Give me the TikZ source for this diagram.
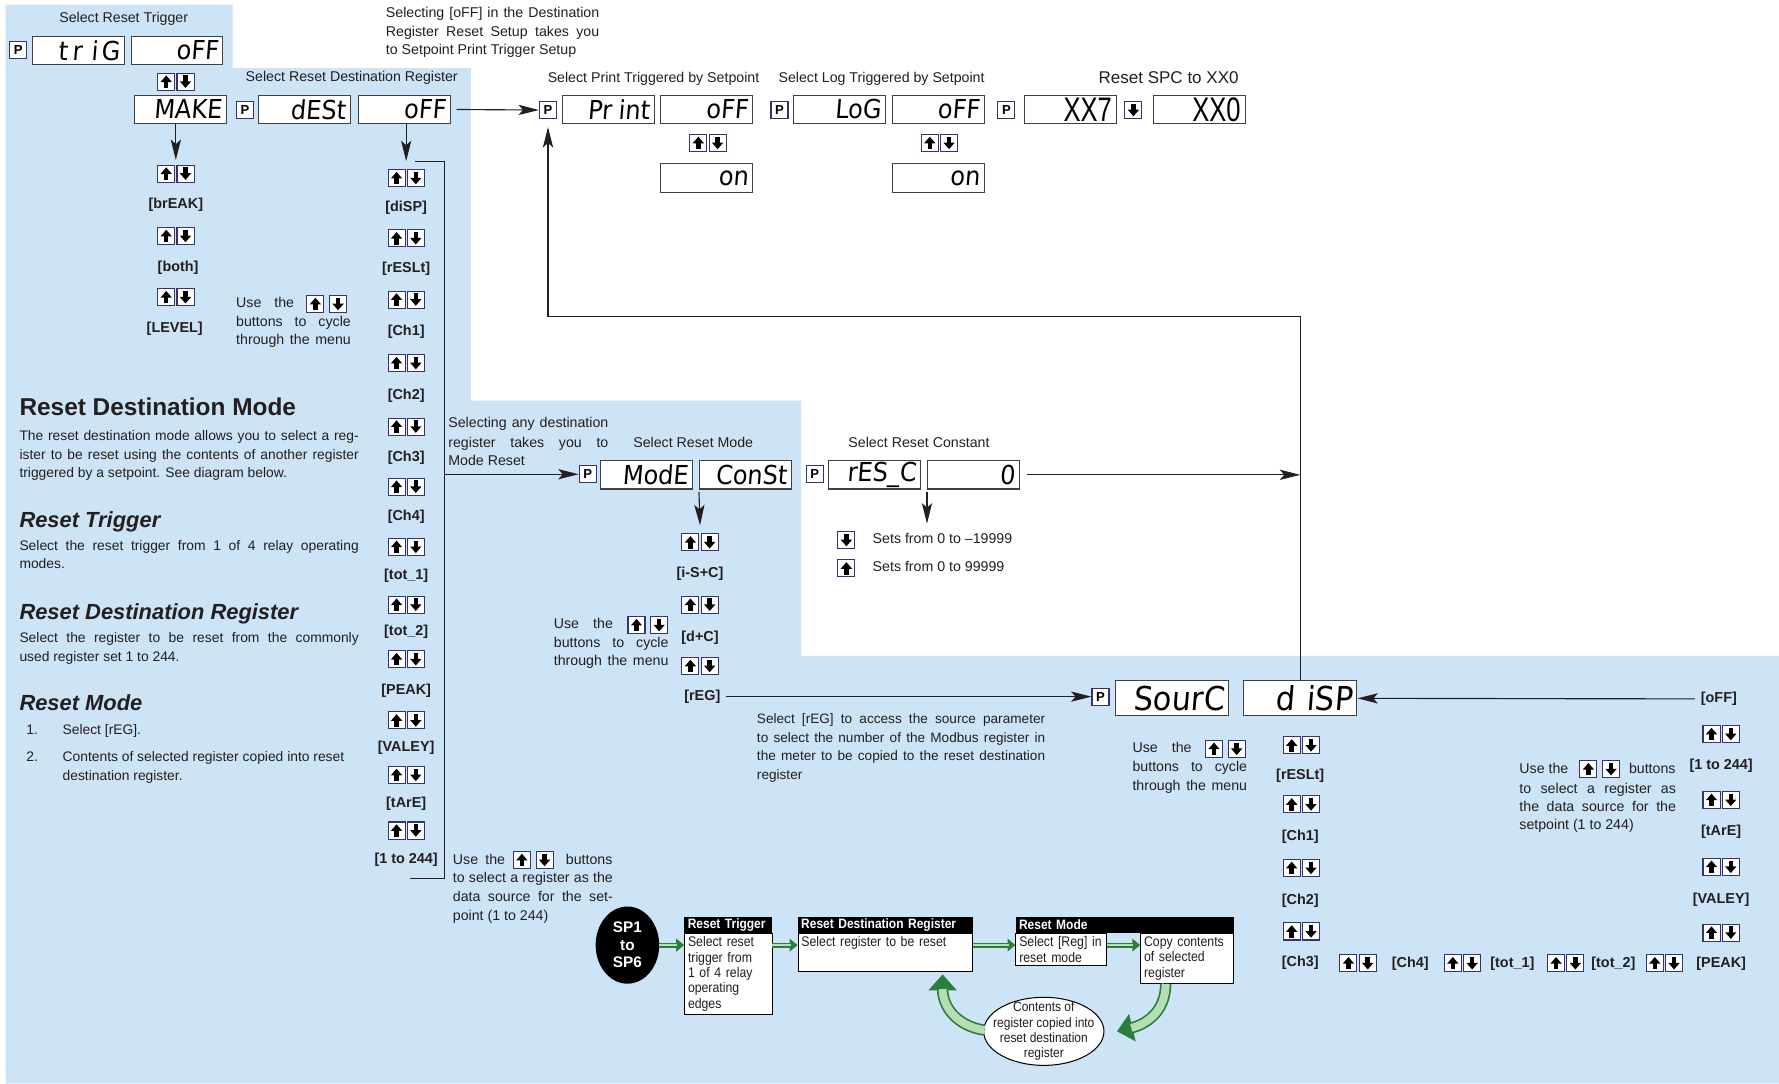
\documentclass[tikz,border=0pt]{standalone}
\usepackage{fontspec}
\setmainfont{Liberation Sans}
\newfontfamily\segfont[FakeSlant=0.08,FakeStretch=0.92]{DejaVu Sans}
\newfontfamily\xxfont[FakeStretch=0.75]{Liberation Sans}
\newfontfamily\condfont[FakeStretch=0.88]{Liberation Sans}
\usetikzlibrary{arrows.meta,shapes.geometric,calc}
\definecolor{bgblue}{RGB}{205,227,246}
\definecolor{btnline}{RGB}{52,50,115}
\definecolor{txt}{RGB}{35,31,32}
\definecolor{gdark}{RGB}{45,125,60}
\definecolor{glight}{RGB}{180,222,180}
\tikzset{
 pics/upbtn/.style={code={
   \draw[draw=btnline, fill=white, line width=0.9pt] (-7.5,-7.5) rectangle (7.5,7.5);
   \fill[black] (-5,0.3) -- (0,-5.5) -- (5,0.3) -- cycle;
   \fill[black] (-2,0) rectangle (2,5.5);}},
 pics/dnbtn/.style={code={
   \draw[draw=btnline, fill=white, line width=0.9pt] (-7.5,-7.5) rectangle (7.5,7.5);
   \fill[black] (-5,-0.3) -- (0,5.5) -- (5,-0.3) -- cycle;
   \fill[black] (-2,0) rectangle (2,-5.5);}},
 pics/udpair/.style={code={\pic at (-8.5,0) {upbtn}; \pic at (8.5,0) {dnbtn};}},
 pics/udgap/.style={code={\pic at (-10,0) {upbtn}; \pic at (10,0) {dnbtn};}}
}
\begin{document}
\begin{tikzpicture}[x=1pt,y=-1pt,
  txtn/.style={inner sep=0pt, text=txt, font=\fontsize{12.5}{15}\selectfont, text height=9pt, text depth=3pt},
  ptxt/.style={txtn, anchor=west, font=\fontsize{12.2}{15}\selectfont},
  lbl/.style={inner sep=0pt, text=txt, font=\bfseries\fontsize{12.7}{15}\selectfont, text height=9pt, text depth=3pt},
  subhd/.style={inner sep=0pt, anchor=base west, text=txt, font=\bfseries\itshape\fontsize{19.3}{22}\selectfont},
  dispn/.style={draw=black!75, line width=0.9pt, fill=white, minimum height=25pt, text width=73pt, align=right, inner xsep=4pt, inner ysep=0pt, font=\segfont\fontsize{23}{23}\selectfont},
  bigdisp/.style={dispn, minimum height=31pt, text width=92pt, font=\segfont\fontsize{29}{29}\selectfont},
  xxdisp/.style={dispn, font=\xxfont\fontsize{30}{30}\selectfont},
  pbox/.style={draw=btnline, line width=1pt, fill=white, minimum size=15pt, inner sep=0pt, font=\bfseries\fontsize{11.5}{11.5}\selectfont},
  arr/.style={draw=txt, line width=1pt, -{Stealth[length=18pt,width=9pt,inset=4pt]}},
  ln/.style={draw=txt, line width=1pt},
  hdr/.style={fill=black, text=white, anchor=north west, inner xsep=3pt, inner ysep=0pt, minimum height=14pt, align=left, font=\bfseries\condfont\fontsize{12}{12}\selectfont},
  bodyn/.style={draw=black, line width=0.8pt, fill=white, anchor=north west, inner xsep=3pt, inner ysep=3pt, align=left, text=txt, font=\condfont\fontsize{12.3}{13.6}\selectfont},
  gfat/.style={draw=gdark, line width=4.5pt, -{Triangle[length=7pt,width=11pt]}, postaction={draw=glight, line width=2pt, shorten >=6pt, -}},
  gbig/.style={draw=gdark, line width=10pt, -{Triangle[length=14pt,width=24pt]}, postaction={draw=glight, line width=7pt, shorten >=13pt, -}}
]
\useasboundingbox (0,0) rectangle (1568,955);
\fill[white] (0,0) rectangle (1568,955);
\fill[bgblue] (5,4) -- (205,4) -- (205,60) -- (415,60) -- (415,353) -- (706,353) -- (706,578) -- (1568,578) -- (1568,955) -- (5,955) -- cycle;

% ---------- Reset trigger ----------
\node[txtn] (hTrig) at (109,17) {Select Reset Trigger};
\node[pbox] (p1) at (16,44) {P};
\node[dispn] (trig) at (69,44.5) {t\hspace{4pt}r\hspace{8pt}i\hspace{3pt}G};
\node[dispn] (trigoff) at (156,44.5) {oFF};
\pic at (155,72) {udpair};
\node[dispn] (make) at (159,96.5) {MAKE};
\coordinate (cA) at (155,153);
\draw[arr] (make.south -| cA) -- ($(cA)+(0,-12)$);
\pic at (cA) {udpair};
\node[lbl] (brk) at (155,181) {[brEAK]};
\pic at (155,208) {udpair};
\node[lbl] (both) at (157,236) {[both]};
\pic at (155,262) {udpair};
\node[lbl] (lev) at (154,290) {[LEVEL]};
\node[txtn, anchor=west] (u1a) at (208,268) {\makebox[51pt][s]{Use the}};
\pic at (288,268) {udgap};
\node[txtn, anchor=west] (u1b) at (208,285) {\makebox[101pt][s]{buttons to cycle}};
\node[txtn, anchor=west] (u1c) at (208,301) {\makebox[101pt][s]{through the menu}};

% ---------- Destination register ----------
\node[txtn] (hDest) at (310,69) {Select Reset Destination Register};
\node[pbox] (p2) at (216,97) {P};
\node[dispn] (dest) at (268,96.5) {dESt};
\node[dispn] (destoff) at (356.5,96.5) {oFF};
\coordinate (cB) at (358,157);
\draw[arr] (destoff.south -| cB) -- ($(cB)+(0,-15)$);
\coordinate (brTL) at (366,142);
\coordinate (brT) at (392,142);
\coordinate (brM) at (392,418);
\coordinate (brB) at (392,774);
\coordinate (brBL) at (361,774);
\draw[ln] (brTL) -- (brT) -- (brB) -- (brBL);
\foreach \yb/\yl/\l [count=\i] in {157/183/{[diSP]}, 210/237/{[rESLt]}, 264/293/{[Ch1]}, 320/349/{[Ch2]}, 376/404/{[Ch3]}, 429/456/{[Ch4]}, 482/508/{[tot\_1]}, 533/557/{[tot\_2]}, 581/609/{[PEAK]}, 635/659/{[VALEY]}, 683/709/{[tArE]}, 732/758/{[1 to 244]}}{
  \pic at (358,\yb) {udpair};
  \node[lbl] (colB\i) at (358,\yl) {\l};
}
\node[txtn, anchor=west] (u2a) at (399,759) {\makebox[46pt][s]{Use the}};
\pic at (470,758) {udgap};
\node[txtn, anchor=east] (u2b) at (540,759) {buttons};
\node[txtn, anchor=west] (u2c) at (399,775) {\makebox[141pt][s]{to select a register as the}};
\node[txtn, anchor=west] (u2d) at (399,792) {\makebox[141pt][s]{data source for the set-}};
\node[txtn, anchor=west] (u2e) at (399,808) {point (1 to 244)};

% ---------- Left description ----------
\node[inner sep=0pt, anchor=base west, text=txt, font=\bfseries\fontsize{21.5}{24}\selectfont] (hRDM) at (17,366) {Reset Destination Mode};
\node[ptxt] (pa1) at (17,385) {\makebox[299pt][s]{The reset destination mode allows you to select a reg-}};
\node[ptxt] (pa2) at (17,402) {\makebox[299pt][s]{ister to be reset using the contents of another register}};
\node[ptxt] (pa3) at (17,418) {triggered by a setpoint. See diagram below.};
\node[subhd] (hRT) at (17,465) {Reset Trigger};
\node[ptxt] (pb1) at (17,482) {\makebox[299pt][s]{Select the reset trigger from 1 of 4 relay operating}};
\node[ptxt] (pb2) at (17,498) {modes.};
\node[subhd] (hRDR) at (17,546) {Reset Destination Register};
\node[ptxt] (pc1) at (17,563) {\makebox[299pt][s]{Select the register to be reset from the commonly}};
\node[ptxt] (pc2) at (17,580) {used register set 1 to 244.};
\node[subhd] (hRM) at (17,626) {Reset Mode};
\node[ptxt] (n1) at (23,644) {1.};
\node[ptxt] (pd1) at (55,644) {Select [rEG].};
\node[ptxt] (n2) at (23,668) {2.};
\node[ptxt] (pd2) at (55,668) {Contents of selected register copied into reset};
\node[ptxt] (pd3) at (55,685) {destination register.};

% ---------- Top note ----------
\node[txtn, anchor=west] (tn1) at (340,12) {\makebox[188pt][s]{Selecting [oFF] in the Destination}};
\node[txtn, anchor=west] (tn2) at (340,29) {\makebox[188pt][s]{Register Reset Setup takes you}};
\node[txtn, anchor=west] (tn3) at (340,45) {to Setpoint Print Trigger Setup};

% ---------- Print / Log / SPC ----------
\node[txtn] (hPrint) at (576,70) {Select Print Triggered by Setpoint};
\node[pbox] (p3) at (483,97) {P};
\node[dispn] (print) at (536,96.5) {Pr\hspace{6pt}int};
\node[dispn] (printoff) at (623,96.5) {oFF};
\pic at (624,126) {udpair};
\node[dispn] (printon) at (623,157) {on};
\node[txtn] (hLog) at (777,70) {Select Log Triggered by Setpoint};
\node[pbox] (p4) at (687,97) {P};
\node[dispn] (log) at (740,96.5) {LoG};
\node[dispn] (logoff) at (827,96.5) {oFF};
\pic at (828,126) {udpair};
\node[dispn] (logon) at (827,157) {on};
\node[txtn, font=\fontsize{15}{17}\selectfont, text height=11pt] (hXX) at (1030,70) {Reset SPC to XX0};
\node[pbox] (p5) at (887,97) {P};
\node[xxdisp] (xx7) at (943.5,96.5) {XX7};
\pic at (999,97) {dnbtn};
\node[xxdisp] (xx0) at (1057,96.5) {XX0};
\draw[arr] ($(destoff.east)+(5,0)$) -- (p3.west);

% ---------- Mode ----------
\node[txtn, anchor=west] (m1) at (395,374) {\makebox[141pt][s]{Selecting any destination}};
\node[txtn, anchor=west] (m2) at (395,391) {\makebox[141pt][s]{register takes you to}};
\node[txtn, anchor=west] (m3) at (395,407) {Mode Reset};
\node[txtn] (hMode) at (611,391) {Select Reset Mode};
\node[pbox] (p6) at (518,418) {P};
\node[dispn] (mode) at (570,418.5) {ModE};
\node[dispn] (const) at (657,418.5) {ConSt};
\draw[arr] (brM) -- (p6.west);
\coordinate (cC) at (617,478);
\draw[arr] ($(const.south west)+(0,2)$) -- ($(cC)+(0,-15)$);
\pic at (cC) {udpair};
\node[lbl] (isc) at (617,506) {[i-S+C]};
\pic at (617,533) {udpair};
\node[lbl] (dc) at (617,562) {[d+C]};
\pic at (617,587) {udpair};
\node[lbl] (reg) at (619,614) {[rEG]};
\node[txtn, anchor=west] (u3a) at (488,551) {\makebox[52pt][s]{Use the}};
\pic at (571,551) {udgap};
\node[txtn, anchor=west] (u3b) at (488,568) {\makebox[101pt][s]{buttons to cycle}};
\node[txtn, anchor=west] (u3c) at (488,584) {\makebox[101pt][s]{through the menu}};

% ---------- Reset constant ----------
\node[txtn] (hConst) at (810,391) {Select Reset Constant};
\node[pbox] (p7) at (718,418) {P};
\node[dispn] (resc) at (771,418.5) {rES\_C};
\node[dispn] (zero) at (858,418.5) {0};
\draw[arr] ($(zero.south west)+(0,2)$) -- ++(0,28);
\pic at (746,476) {dnbtn};
\node[txtn, anchor=west] (s1) at (769,476) {Sets from 0 to --19999};
\pic at (746,501) {upbtn};
\node[txtn, anchor=west] (s2) at (769,501) {Sets from 0 to 99999};

% ---------- Source ----------
\node[pbox] (p8) at (970,614) {P};
\node[bigdisp] (sourc) at (1033,615.5) {SourC};
\node[bigdisp] (dispbox) at (1146,615.5) {d\hspace{10pt}iSP};
\node[lbl] (off2) at (1515,616) {[oFF]};
\draw[arr] ($(off2.west)+(-5,0)$) -- (dispbox.east);
\draw[arr] ($(reg.east)+(5,0)$) -- (p8.west);
\draw[arr] ($(zero.east)+(6,0)$) -- (zero.east -| dispbox.north);
\coordinate (rtc) at (483,279);
\draw[arr, shorten >=7pt] (dispbox.north) |- (rtc) -- (p3.south);
\node[txtn, anchor=west, font=\fontsize{12}{15}\selectfont] (sr1) at (667,635) {\makebox[254pt][s]{Select [rEG] to access the source parameter}};
\node[txtn, anchor=west, font=\fontsize{12}{15}\selectfont] (sr2) at (667,651) {\makebox[254pt][s]{to select the number of the Modbus register in}};
\node[txtn, anchor=west, font=\fontsize{12}{15}\selectfont] (sr3) at (667,667) {\makebox[254pt][s]{the meter to be copied to the reset destination}};
\node[txtn, anchor=west, font=\fontsize{12}{15}\selectfont] (sr4) at (667,684) {register};
\node[txtn, anchor=west] (u4a) at (998,660) {\makebox[52pt][s]{Use the}};
\pic at (1080,660) {udgap};
\node[txtn, anchor=west] (u4b) at (998,677) {\makebox[101pt][s]{buttons to cycle}};
\node[txtn, anchor=west] (u4c) at (998,694) {\makebox[101pt][s]{through the menu}};
\foreach \yb/\yl/\l [count=\i] in {657/684/{[rESLt]}, 709/738/{[Ch1]}, 765/794/{[Ch2]}, 821/849/{[Ch3]}}{
  \pic at (1147,\yb) {udpair};
  \node[lbl] (colD\i) at (1146,\yl) {\l};
}
\foreach \xb/\xl/\l [count=\i] in {1197/1243/{[Ch4]}, 1289/1333/{[tot\_1]}, 1380/1422/{[tot\_2]}}{
  \pic at (\xb,849) {udpair};
  \node[lbl] (rowE\i) at (\xl,850) {\l};
}
\pic at (1467,849) {udpair};
\foreach \yb/\yl/\l [count=\i] in {647/675/{[1 to 244]}, 705/733/{[tArE]}, 764/793/{[VALEY]}, 822/850/{[PEAK]}}{
  \pic at (1517,\yb) {udpair};
  \node[lbl] (colF\i) at (1517,\yl) {\l};
}
\node[txtn, anchor=west] (u5a) at (1339,679) {Use the};
\pic at (1410,678) {udgap};
\node[txtn, anchor=east] (u5b) at (1477,679) {buttons};
\node[txtn, anchor=west] (u5c) at (1339,696) {\makebox[138pt][s]{to select a register as}};
\node[txtn, anchor=west] (u5d) at (1339,712) {\makebox[138pt][s]{the data source for the}};
\node[txtn, anchor=west] (u5e) at (1339,728) {setpoint (1 to 244)};

% ---------- Flow chart ----------
\node[ellipse, fill=black, minimum width=56pt, minimum height=68pt, inner sep=0pt, text=white, align=center, font=\bfseries\fontsize{13.5}{15.5}\selectfont] (sp) at (553,833) {SP1\\to\\SP6};
\node[hdr, text width=71pt] (rth) at (603,808) {Reset Trigger};
\node[bodyn, text width=71pt] (rtb) at (603,822) {Select reset\\trigger from\\1 of 4 relay\\operating\\edges};
\node[hdr, text width=148pt] (rdrh) at (703,808) {Reset Destination Register};
\node[bodyn, text width=148pt, text height=9pt, text depth=19pt] (rdrb) at (703,822) {Select register to be reset};
\node[hdr, text width=186pt] (rmh) at (895,808) {Reset Mode};
\node[bodyn, text width=74pt] (rmb1) at (895,822) {Select [Reg] in\\reset mode};
\node[bodyn, text width=76pt] (rmb2) at (1005,822) {Copy contents\\of selected\\register};
\node[ellipse, draw=black, line width=0.9pt, fill=white, minimum width=106pt, minimum height=60pt, inner sep=0pt] (cont) at (920,909) {};
\node[inner sep=0pt, align=center, text=txt, font=\condfont\fontsize{12}{13.6}\selectfont] (conttxt) at (cont.center) {Contents of\\register copied into\\reset destination\\register};
\draw[gfat] (sp.east) -- (rtb.west |- sp.east);
\draw[gfat] (rtb.east |- sp.east) -- (rdrb.west |- sp.east);
\draw[gfat] (rdrb.east |- sp.east) -- (rmb1.west |- sp.east);
\draw[gfat] (rmb1.east |- sp.east) -- (rmb2.west |- sp.east);
\draw[gbig] ($(rmb2.south)+(-19,0)$) .. controls +(0,25) and +(25,-6) .. ($(cont.east)+(11,0)$);
\draw[gbig] ($(cont.west)+(1,-1)$) .. controls +(-25,-4) and +(0,28) .. ($(rdrb.south east)+(-27,2)$);
\end{tikzpicture}
\end{document}
